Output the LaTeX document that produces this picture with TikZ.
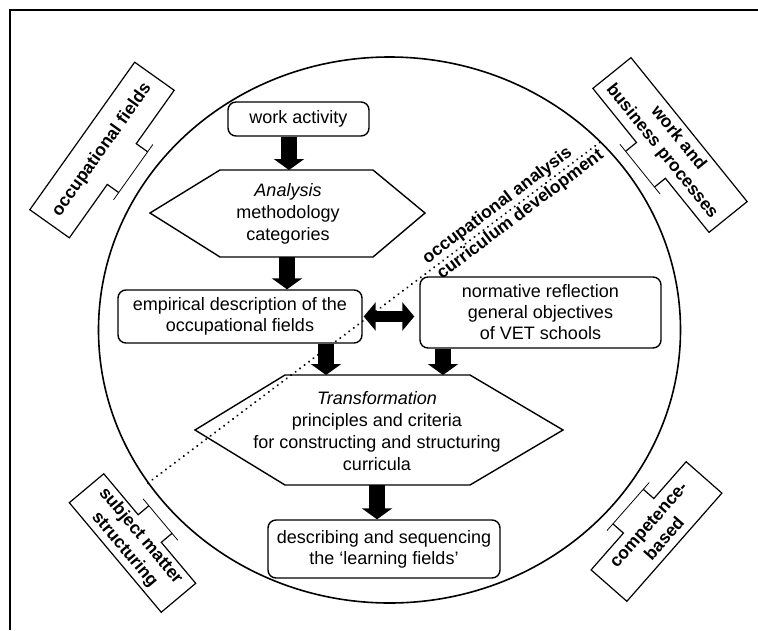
\documentclass[tikz,border=0pt]{standalone}
\usepackage{fontspec}
\setmainfont{Liberation Sans}
\usetikzlibrary{calc,arrows.meta}

% frame of a rotated side tag, drawn in local coordinates:
% #1 length, #2 height, #3 half width of the tab, #4 side of the tab (1 top, -1 bottom)
\newcommand{\drawtabframe}[4]{%
  \pgfmathsetmacro{\tfL}{#1/2}%
  \pgfmathsetmacro{\tfLo}{-#1/2}%
  \pgfmathsetmacro{\tfH}{#2/2*#4}%
  \pgfmathsetmacro{\tfHo}{-#2/2*#4}%
  \pgfmathsetmacro{\tfW}{#3}%
  \pgfmathsetmacro{\tfWo}{-#3}%
  \pgfmathsetmacro{\tfD}{(#2/2+14)*#4}%
  \pgfmathsetmacro{\tfE}{#3+9}%
  \pgfmathsetmacro{\tfEo}{-#3-9}%
  \draw[tagframe] (\tfW,\tfD) -- (\tfW,\tfH) -- (\tfL,\tfH) -- (\tfL,\tfHo)
     -- (\tfLo,\tfHo) -- (\tfLo,\tfH) -- (\tfWo,\tfH) -- (\tfWo,\tfD);
  \draw[tagtab] (\tfEo,\tfD) -- (\tfE,\tfD);
}

\tikzset{
  box/.style={draw, line width=1.4pt, rounded corners=8pt, inner sep=0pt,
              font=\fontsize{18}{21}\selectfont, align=center},
  body/.style={font=\fontsize{18}{22}\selectfont, align=center, inner sep=0pt},
  hexa/.style={line width=1.4pt, line join=miter},
  blockarrow/.style={line width=16pt, -{Triangle[width=30pt,length=11pt]}},
  twoway/.style={line width=11pt, {Triangle[width=28pt,length=12pt]}-{Triangle[width=28pt,length=12pt]}},
  tag/.style={font=\fontsize{17.5}{21}\selectfont\bfseries, align=center, inner sep=0pt},
  tagframe/.style={line width=1.2pt, line join=miter},
  tagtab/.style={line width=0.8pt},
  ring/.style={line width=1.6pt},
  divider/.style={line width=2.2pt, dash pattern=on 0.1pt off 5.5pt, line cap=round},
}

\begin{document}
\begin{tikzpicture}[x=1pt, y=1pt]
\useasboundingbox (0,0) rectangle (758,-630);

% page frame (top and left)
\draw[line width=2.8pt] (10,-630) -- (10,-10) -- (758,-10);

% the big circle
\draw[ring] (389.5,-330) ellipse [x radius=291, y radius=273];

% dotted divider with its two labels
\coordinate (dlA) at (148,-483);
\coordinate (dlB) at (603,-140);
\draw[divider] (dlA) -- (dlB);
\coordinate (oaP) at ($(dlA)!446pt!(dlB)$);
\coordinate (cdP) at ($(dlA)!459pt!(dlB)$);
\node[tag, rotate=37] (occan) at ($(oaP)!11pt!90:(dlB)$) {occupational analysis};
\node[tag, rotate=37] (curdev) at ($(cdP)!10pt!-90:(dlB)$) {curriculum development};

% boxes
\node[box, minimum width=141, minimum height=34] (work) at (298.5,-119) {work activity};
\node[box, minimum width=244, minimum height=53] (emp) at (240,-316.5)
  {empirical description of the\\occupational fields};
\node[box, minimum width=241, minimum height=71] (norm) at (540.5,-312.5)
  {normative reflection\\general objectives\\of VET schools};
\node[box, minimum width=232, minimum height=58] (desc) at (384,-549)
  {describing and sequencing\\the `learning fields'};

% hexagon: analysis
\draw[hexa] (150,-213) -- (220,-170) -- (373,-170) -- (425,-213) -- (373,-257) -- (220,-257) -- cycle;
\node[body] (anal) at (288,-214) {\textit{Analysis}\\methodology\\categories};

% hexagon: transformation
\draw[hexa] (195,-430) -- (285,-375) -- (470,-375) -- (563,-430) -- (470,-485) -- (285,-485) -- cycle;
\node[body] (trans) at (377,-431)
  {\textit{Transformation}\\principles and criteria\\for constructing and structuring\\curricula};

% arrow anchors on the hexagons
\coordinate (anTop) at (289,-170);
\coordinate (anBot) at (287,-257);
\coordinate (trTopL) at (326,-375);
\coordinate (trTopR) at (443,-375);
\coordinate (trBot) at (377,-485);

% block arrows
\draw[blockarrow] (work.south -| anTop) -- (anTop);
\draw[blockarrow] (anBot) -- (anBot |- emp.north);
\draw[blockarrow] (emp.south -| trTopL) -- (trTopL);
\draw[blockarrow] (norm.south -| trTopR) -- (trTopR);
\draw[blockarrow] (trBot) -- (trBot |- desc.north);
\draw[twoway, shorten >=5pt, shorten <=1pt] (emp.east) -- (emp.east -| norm.west);

% side tags
\node[tag, rotate=54.6] (tagA) at (102,-150) {occupational fields};
\begin{scope}[shift={(tagA.center)}, rotate=54.6]
  \drawtabframe{181}{48.5}{25}{-1}
\end{scope}

\node[tag, rotate=-51.1] (tagB) at (670,-145) {work and\\business processes};
\begin{scope}[shift={(tagB.center)}, rotate=-51.1]
  \drawtabframe{185}{49}{23}{-1}
\end{scope}

\node[tag, rotate=-50] (tagC) at (132.5,-543) {subject matter\\structuring};
\begin{scope}[shift={(tagC.center)}, rotate=-50]
  \drawtabframe{143}{45}{18}{1}
\end{scope}

\node[tag, rotate=48.7] (tagD) at (656.5,-531.5) {competence-\\based};
\begin{scope}[shift={(tagD.center)}, rotate=48.7]
  \drawtabframe{144}{47.6}{23}{1}
\end{scope}

\end{tikzpicture}
\end{document}
